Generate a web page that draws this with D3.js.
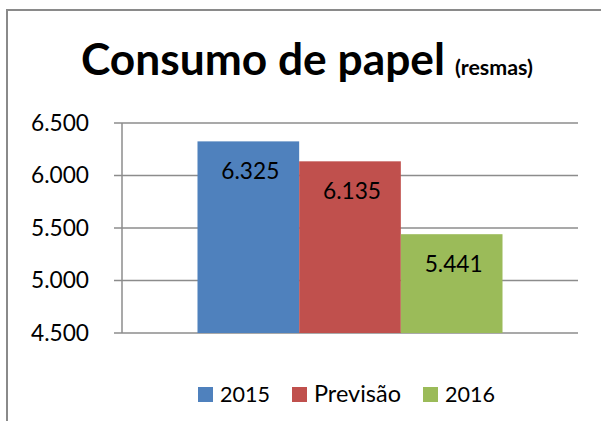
<!DOCTYPE html>
<html>
<head>
<meta charset="utf-8">
<script src="https://cdn.jsdelivr.net/npm/d3@7"></script>
<style>
  html, body { margin: 0; padding: 0; background: #fff; }
  svg { display: block; }
  text { font-family: Lato, "Open Sans", "DejaVu Sans", sans-serif; fill: #000; }
</style>
</head>
<body>
<svg id="chart" width="601" height="421"></svg>
<script>
// ---- data ----
const titleMain = "Consumo de papel";
const titleUnit = "(resmas)";
const categories = [""];
const seriesNames = ["2015", "Previsão", "2016"];
const seriesValues = [6325, 6135, 5441];
const seriesColors = ["#4F81BD", "#C0504D", "#9BBB59"];
const yTicks = [4500, 5000, 5500, 6000, 6500];

const ptBR = d3.formatLocale({ decimal: ",", thousands: ".", grouping: [3], currency: ["R$", ""] });
const fmt = ptBR.format(",");

const svg = d3.select("#chart");

// scale font-size of a text node so its rendered width matches a target width
function fitWidth(sel, target) {
  sel.each(function () {
    const node = this;
    const fs = parseFloat(node.style.fontSize);
    const w = node.getComputedTextLength();
    if (w > 0) node.style.fontSize = (fs * target / w).toFixed(2) + "px";
  });
  return sel;
}

// outer frame (only left & top visible in crop)
svg.append("path")
  .attr("d", "M7,421 V10 H601")
  .attr("fill", "none")
  .attr("stroke", "#8a8a8a")
  .attr("stroke-width", 2);

const plot = { left: 122, right: 578, top: 123, bottom: 333 };

const y = d3.scaleLinear().domain([4500, 6500]).range([plot.bottom, plot.top]);
const x0 = d3.scaleBand().domain(categories).range([plot.left, plot.right])
  .paddingInner(0).paddingOuter(0.2475);
const x1 = d3.scaleBand().domain(seriesNames).range([0, x0.bandwidth()]).padding(0);

// gridlines
svg.append("g").selectAll("line").data(yTicks).join("line")
  .attr("x1", plot.left - 8).attr("x2", plot.right)
  .attr("y1", d => y(d)).attr("y2", d => y(d))
  .attr("stroke", "#8c8c8c").attr("stroke-width", 1.5);

// y axis line
svg.append("line")
  .attr("x1", plot.left).attr("x2", plot.left)
  .attr("y1", y(6500)).attr("y2", y(4500))
  .attr("stroke", "#8c8c8c").attr("stroke-width", 1.5);

// tick labels
const tl = svg.append("g").selectAll("text").data(yTicks).join("text")
  .attr("x", 89).attr("y", d => y(d) + 7.5)
  .attr("text-anchor", "end")
  .style("font-size", "20px")
  .text(d => fmt(d));
fitWidth(tl, 58);

// bars
const data = seriesNames.map((s, i) => ({ name: s, value: seriesValues[i], color: seriesColors[i] }));
const g = svg.append("g").attr("transform", `translate(${x0(categories[0])},0)`);
g.selectAll("rect").data(data).join("rect")
  .attr("x", d => x1(d.name))
  .attr("width", x1.bandwidth())
  .attr("y", d => y(d.value))
  .attr("height", d => y(4500) - y(d.value))
  .attr("fill", d => d.color);

const bl = g.selectAll("text.lbl").data(data).join("text")
  .attr("class", "lbl")
  .attr("x", d => x1(d.name) + x1.bandwidth() / 2 + 2)
  .attr("y", d => y(d.value) + 38)
  .attr("text-anchor", "middle")
  .style("font-size", "23px")
  .text(d => fmt(d.value));
fitWidth(bl, 58);

// title
const t = svg.append("text").attr("x", 81).attr("y", 75);
const t1 = t.append("tspan").style("font-size", "43px").style("font-weight", "bold").text(titleMain);
fitWidth(t1, 364);
const t2 = t.append("tspan").attr("dx", 10).style("font-size", "17px").style("font-weight", "bold").text(titleUnit);
fitWidth(t2, 78);

// legend
const legX = [198, 292, 423];
const legW = [50, 87, 50];
const lg = svg.append("g");
data.forEach((d, i) => {
  lg.append("rect").attr("x", legX[i]).attr("y", 387).attr("width", 15).attr("height", 15).attr("fill", d.color);
  const lt = lg.append("text").attr("x", legX[i] + 22).attr("y", 402)
    .style("font-size", "22px").text(d.name);
  fitWidth(lt, legW[i]);
});
</script>
</body>
</html>
